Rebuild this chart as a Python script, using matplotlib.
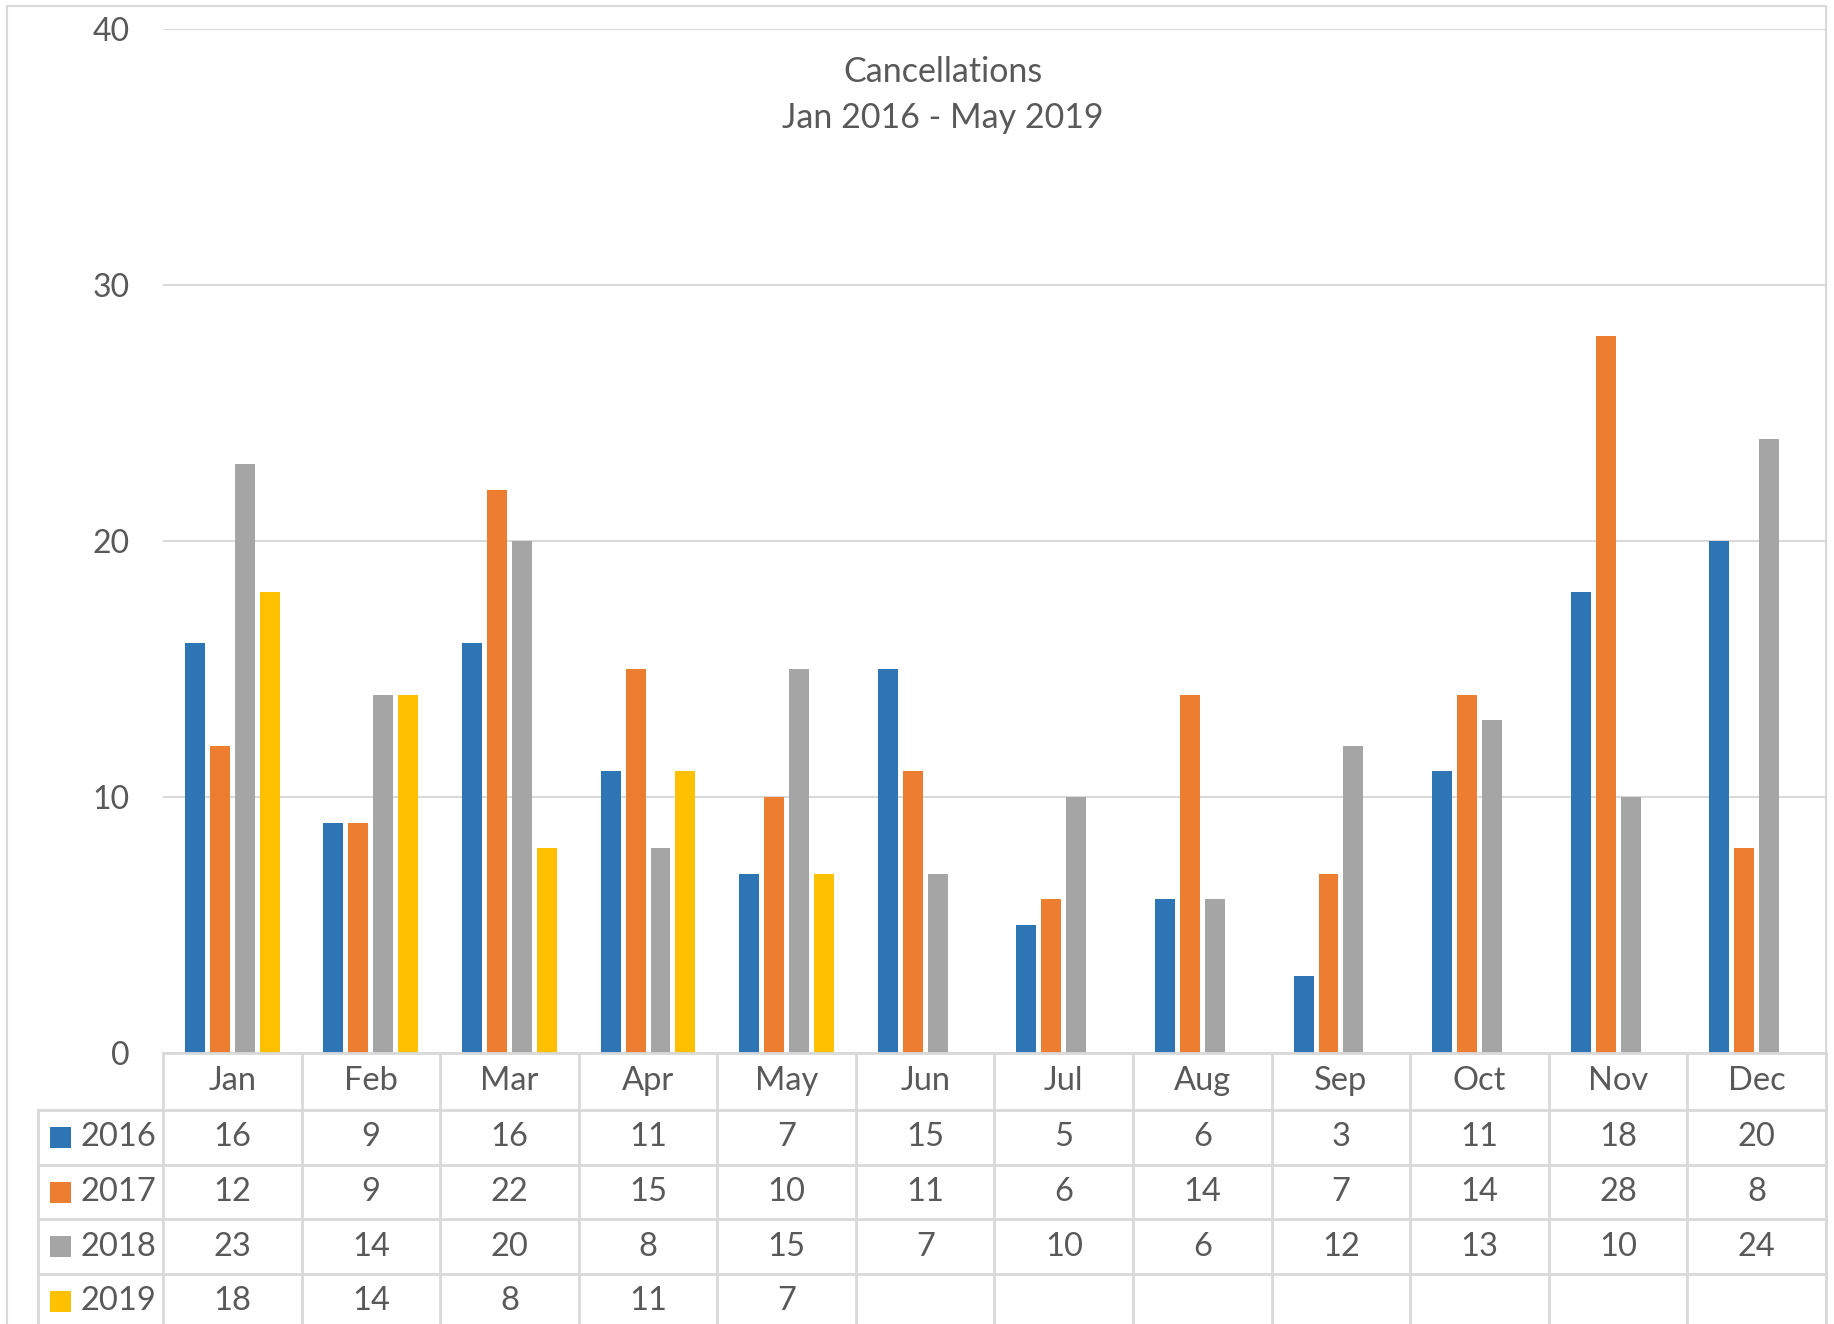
import numpy as np
import matplotlib.pyplot as plt
from matplotlib.patches import Rectangle

plt.rcParams["font.family"] = ["Lato", "DejaVu Sans"]

months = ["Jan", "Feb", "Mar", "Apr", "May", "Jun", "Jul", "Aug", "Sep", "Oct", "Nov", "Dec"]
years = ["2016", "2017", "2018", "2019"]
v2016 = [16, 9, 16, 11, 7, 15, 5, 6, 3, 11, 18, 20]
v2017 = [12, 9, 22, 15, 10, 11, 6, 14, 7, 14, 28, 8]
v2018 = [23, 14, 20, 8, 15, 7, 10, 6, 12, 13, 10, 24]
v2019 = [18, 14, 8, 11, 7, None, None, None, None, None, None, None]
series = [v2016, v2017, v2018, v2019]
colors = ["#2E75B6", "#ED7D31", "#A5A5A5", "#FFC000"]

txt = "#595959"
grid = "#D9D9D9"
W, H = 1834, 1324

fig = plt.figure(figsize=(W / 100, H / 100), dpi=100)

# chart outer frame
fig.patches.append(Rectangle((7 / W, -0.1), (1826 - 7) / W, 1.1 - 6 / H,
                             transform=fig.transFigure, fill=False,
                             edgecolor=grid, linewidth=1.5))

ax = fig.add_axes([163 / W, (H - 1053) / H, (1826 - 163) / W, (1053 - 29) / H])
x = np.arange(len(months))
for i, (vals, c) in enumerate(zip(series, colors)):
    y = np.array([np.nan if v is None else v for v in vals], dtype=float)
    ax.bar(x + (i - 1.5) * 0.18, y, width=0.144, color=c, zorder=3)

ax.set_xlim(-0.5, 11.5)
ax.set_ylim(0, 40)
ax.set_yticks([0, 10, 20, 30, 40])
ax.set_xticks([])
ax.yaxis.grid(True, color=grid, linewidth=1.5)
ax.tick_params(axis="y", length=0, labelsize=23, labelcolor=txt, pad=24)
for s in ax.spines.values():
    s.set_visible(False)

fig.text(943 / W, 1 - 72 / H, "Cancellations", ha="center", va="center",
         fontsize=24.5, color=txt)
fig.text(943 / W, 1 - 118 / H, "Jan 2016 - May 2019", ha="center", va="center",
         fontsize=24.5, color=txt)

# data table under the chart
tab = fig.add_axes([38 / W, 0, (1826 - 38) / W, (H - 1053) / H])
x0 = -0.5 - 125 / 138.6
tab.set_xlim(x0, 11.5)
tab.set_ylim(H - 1053, 0)
tab.axis("off")

rows = [0, 57, 112, 166, 221, 276]
lw = 2
tab.plot([-0.5, 11.5], [rows[0], rows[0]], color=grid, lw=lw, clip_on=False)
for r in rows[1:5]:
    tab.plot([x0, 11.5], [r, r], color=grid, lw=lw, clip_on=False)
tab.plot([x0, x0], [rows[1], 300], color=grid, lw=lw, clip_on=False)
for j in range(len(months) + 1):
    tab.plot([j - 0.5, j - 0.5], [rows[0], 300], color=grid, lw=lw, clip_on=False)

for j, m in enumerate(months):
    tab.text(j, (rows[0] + rows[1]) / 2, m, ha="center", va="center",
             fontsize=23.5, color=txt)

for i, (yr, vals, c) in enumerate(zip(years, series, colors)):
    yc = (rows[i + 1] + rows[i + 2]) / 2
    tab.add_patch(Rectangle((x0 + 12 / 138.6, yc - 10.5), 21 / 138.6, 21,
                            facecolor=c, edgecolor="none"))
    tab.text(x0 + 43 / 138.6, yc, yr, ha="left", va="center", fontsize=23.5, color=txt)
    for j, v in enumerate(vals):
        if v is not None:
            tab.text(j, yc, str(v), ha="center", va="center", fontsize=23.5, color=txt)

fig.savefig("out.png", dpi=100)
